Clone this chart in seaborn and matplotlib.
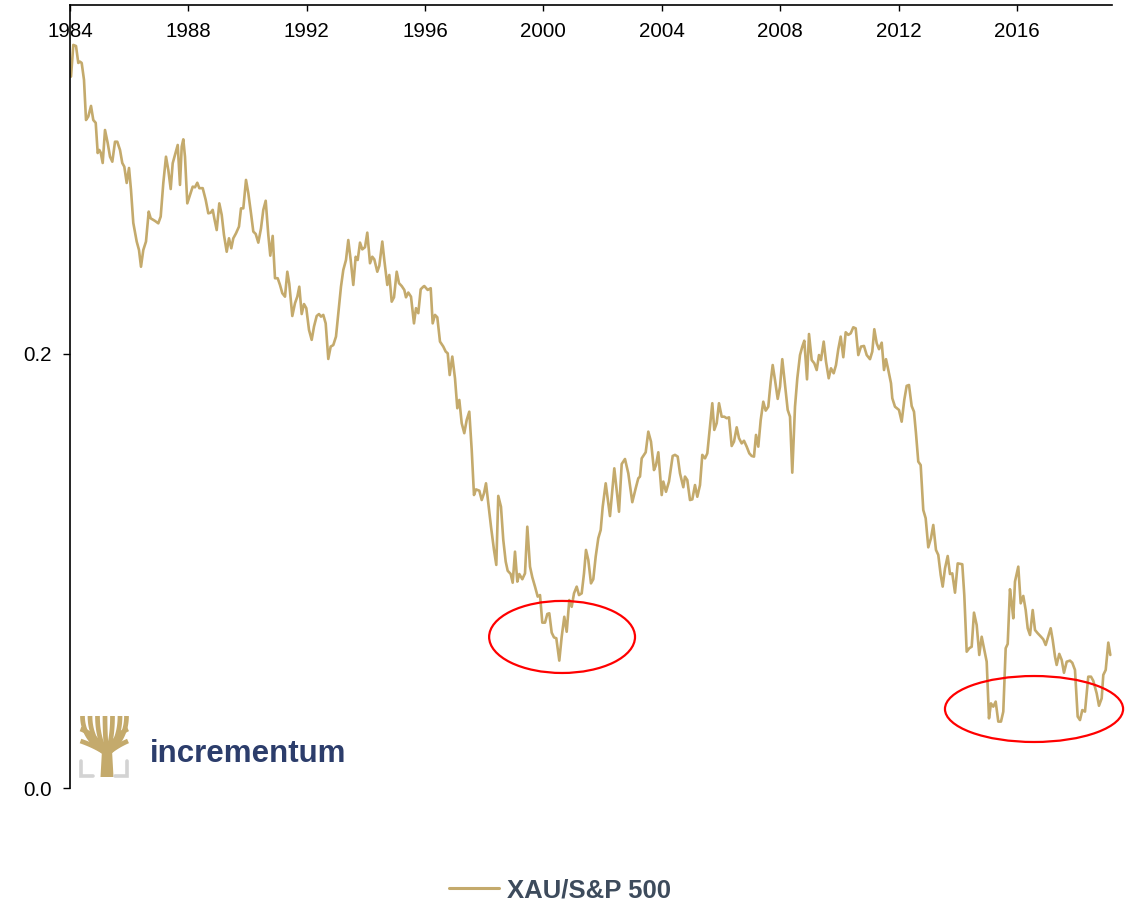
import matplotlib
matplotlib.use("Agg")
import matplotlib.pyplot as plt
import seaborn as sns
import numpy as np
import pandas as pd
from matplotlib.patches import Ellipse, Polygon
from matplotlib import font_manager

# ---------------- data ----------------
SERIES_LABEL = "XAU/S&P 500"

years = [
    1984.034, 1984.112, 1984.203, 1984.280, 1984.338, 1984.395, 1984.473, 1984.541, 1984.618, 1984.710,
    1984.787, 1984.869, 1984.936, 1984.990, 1985.038, 1985.105, 1985.183, 1985.274, 1985.352, 1985.430,
    1985.521, 1985.598, 1985.690, 1985.767, 1985.835, 1985.916, 1985.994, 1986.061, 1986.139, 1986.254,
    1986.332, 1986.399, 1986.477, 1986.568, 1986.660, 1986.727, 1986.873, 1986.984, 1987.065, 1987.153,
    1987.244, 1987.322, 1987.403, 1987.471, 1987.548, 1987.640, 1987.717, 1987.775, 1987.829, 1987.886,
    1987.964, 1988.055, 1988.147, 1988.224, 1988.302, 1988.370, 1988.485, 1988.586, 1988.674, 1988.755,
    1988.823, 1988.877, 1988.958, 1989.046, 1989.127, 1989.204, 1989.296, 1989.373, 1989.451, 1989.519,
    1989.610, 1989.711, 1989.779, 1989.857, 1989.948,
    1990.026, 1990.117, 1990.195, 1990.276, 1990.364, 1990.455, 1990.533, 1990.614, 1990.702, 1990.769,
    1990.850, 1990.928, 1991.019, 1991.097, 1991.175, 1991.266, 1991.344, 1991.411, 1991.513, 1991.604,
    1991.682, 1991.749, 1991.830, 1991.908, 1991.986, 1992.077, 1992.168, 1992.246, 1992.337, 1992.415,
    1992.482, 1992.560, 1992.641, 1992.729, 1992.810, 1992.898, 1992.989, 1993.067, 1993.158, 1993.236,
    1993.327, 1993.405, 1993.486, 1993.574, 1993.655, 1993.723, 1993.801, 1993.878, 1993.970, 1994.047,
    1994.139, 1994.216, 1994.284, 1994.385, 1994.453, 1994.554, 1994.622, 1994.723, 1994.791, 1994.872,
    1994.950, 1995.041, 1995.119, 1995.210, 1995.298, 1995.355, 1995.433, 1995.524, 1995.625, 1995.693,
    1995.771, 1995.852, 1995.940,
    1995.974, 1996.088, 1996.190, 1996.257, 1996.335, 1996.413, 1996.504, 1996.616, 1996.697, 1996.765,
    1996.832, 1996.920, 1997.011, 1997.089, 1997.157, 1997.238, 1997.325, 1997.407, 1997.494, 1997.576,
    1997.653, 1997.721, 1997.833, 1997.914, 1997.991, 1998.059, 1998.137, 1998.228, 1998.329, 1998.407,
    1998.474, 1998.565, 1998.643, 1998.725, 1998.792, 1998.894, 1998.961, 1999.039, 1999.117, 1999.184,
    1999.286, 1999.377, 1999.455, 1999.546, 1999.624, 1999.715, 1999.806, 1999.884, 1999.962, 2000.053,
    2000.131, 2000.198, 2000.279, 2000.357, 2000.435, 2000.536, 2000.617, 2000.705, 2000.786, 2000.874,
    2000.955, 2001.033, 2001.124, 2001.202, 2001.293, 2001.371, 2001.438, 2001.516, 2001.607, 2001.685,
    2001.766, 2001.854, 2001.935, 2002.003,
    2002.104, 2002.249, 2002.395, 2002.554, 2002.645, 2002.756, 2002.868, 2003.003, 2003.118, 2003.206,
    2003.263, 2003.321, 2003.456, 2003.544, 2003.635, 2003.736, 2003.804, 2003.882, 2003.997, 2004.051,
    2004.142, 2004.243, 2004.368, 2004.446, 2004.537, 2004.615, 2004.727, 2004.784, 2004.862, 2004.953,
    2005.031, 2005.122, 2005.200, 2005.291, 2005.369, 2005.460, 2005.538, 2005.629, 2005.707, 2005.774,
    2005.855, 2005.933, 2006.024, 2006.112, 2006.193, 2006.271, 2006.362, 2006.440, 2006.531, 2006.609,
    2006.700, 2006.778, 2006.869, 2006.957, 2007.038, 2007.116, 2007.184, 2007.261, 2007.343, 2007.430,
    2007.511, 2007.599, 2007.680, 2007.748, 2007.826, 2007.917, 2007.995, 2008.072, 2008.164, 2008.255,
    2008.333, 2008.410, 2008.502, 2008.580, 2008.671, 2008.749, 2008.816, 2008.908, 2008.975, 2009.066,
    2009.154, 2009.235, 2009.313, 2009.380, 2009.472, 2009.549, 2009.641, 2009.718, 2009.809, 2009.887,
    2009.965, 2010.046, 2010.134, 2010.215, 2010.303, 2010.384, 2010.472, 2010.553, 2010.641, 2010.732,
    2010.833, 2010.925, 2011.036, 2011.114, 2011.182, 2011.263, 2011.341, 2011.432, 2011.510, 2011.577,
    2011.655, 2011.746, 2011.790, 2011.881, 2012.016, 2012.107, 2012.195, 2012.276, 2012.354, 2012.445,
    2012.523, 2012.590, 2012.668, 2012.749, 2012.837, 2012.918, 2013.006, 2013.097, 2013.175, 2013.266,
    2013.344, 2013.425, 2013.493, 2013.571, 2013.662, 2013.740, 2013.817, 2013.909, 2014.000, 2014.155,
    2014.223, 2014.304, 2014.392, 2014.473, 2014.551, 2014.642, 2014.730, 2014.811, 2014.899, 2014.980,
    2015.058, 2015.125, 2015.203, 2015.284, 2015.372, 2015.463, 2015.541, 2015.622, 2015.690, 2015.767,
    2015.825, 2015.879, 2015.936, 2016.048, 2016.129, 2016.217, 2016.298, 2016.366, 2016.444, 2016.535,
    2016.613, 2016.704, 2016.815, 2016.893, 2016.974, 2017.042, 2017.143, 2017.211, 2017.289, 2017.345,
    2017.433, 2017.515, 2017.592, 2017.684, 2017.795, 2017.873, 2017.964, 2018.055, 2018.133, 2018.211,
    2018.302, 2018.413, 2018.505, 2018.582, 2018.697, 2018.775, 2018.866, 2018.921, 2019.002, 2019.090,
    2019.158,
]

xau_spx = [
    0.3278, 0.3424, 0.3419, 0.3341, 0.3347, 0.3341, 0.3263, 0.3078, 0.3094, 0.3143,
    0.3078, 0.3065, 0.2926, 0.2940, 0.2928, 0.2880, 0.3032, 0.2972, 0.2909, 0.2886,
    0.2978, 0.2978, 0.2940, 0.2880, 0.2863, 0.2788, 0.2857, 0.2756, 0.2604, 0.2518,
    0.2479, 0.2402, 0.2479, 0.2518, 0.2656, 0.2625, 0.2613, 0.2602, 0.2633, 0.2787,
    0.2909, 0.2848, 0.2760, 0.2879, 0.2917, 0.2963, 0.2779, 0.2955, 0.2989, 0.2909,
    0.2694, 0.2733, 0.2771, 0.2768, 0.2789, 0.2764, 0.2764, 0.2710, 0.2648, 0.2651,
    0.2664, 0.2625, 0.2571, 0.2694, 0.2641, 0.2548, 0.2471, 0.2533, 0.2487, 0.2533,
    0.2556, 0.2587, 0.2671, 0.2671, 0.2802,
    0.2741, 0.2648, 0.2564, 0.2553, 0.2513, 0.2579, 0.2664, 0.2706, 0.2548, 0.2453,
    0.2544, 0.2349, 0.2349, 0.2318, 0.2280, 0.2264, 0.2379, 0.2323, 0.2175, 0.2234,
    0.2264, 0.2310, 0.2184, 0.2230, 0.2211, 0.2111, 0.2065, 0.2126, 0.2175, 0.2184,
    0.2172, 0.2180, 0.2141, 0.1977, 0.2034, 0.2041, 0.2080, 0.2188, 0.2310, 0.2387,
    0.2433, 0.2525, 0.2433, 0.2318, 0.2448, 0.2433, 0.2513, 0.2482, 0.2492, 0.2559,
    0.2418, 0.2448, 0.2436, 0.2379, 0.2406, 0.2518, 0.2433, 0.2318, 0.2364, 0.2241,
    0.2261, 0.2379, 0.2326, 0.2313, 0.2295, 0.2261, 0.2283, 0.2264, 0.2141, 0.2211,
    0.2188, 0.2298, 0.2310,
    0.2313, 0.2295, 0.2303, 0.2141, 0.2180, 0.2169, 0.2057, 0.2034, 0.2011, 0.2003,
    0.1903, 0.1988, 0.1888, 0.1750, 0.1788, 0.1681, 0.1635, 0.1696, 0.1734, 0.1558,
    0.1350, 0.1376, 0.1370, 0.1327, 0.1358, 0.1404, 0.1312, 0.1204, 0.1097, 0.1028,
    0.1346, 0.1296, 0.1143, 0.1043, 0.1001, 0.0986, 0.0946, 0.1089, 0.0951, 0.0986,
    0.0962, 0.0989, 0.1204, 0.1020, 0.0971, 0.0928, 0.0882, 0.0889, 0.0762, 0.0762,
    0.0802, 0.0805, 0.0716, 0.0694, 0.0690, 0.0587, 0.0697, 0.0789, 0.0720, 0.0866,
    0.0835, 0.0897, 0.0928, 0.0889, 0.0897, 0.0989, 0.1097, 0.1051, 0.0943, 0.0962,
    0.1066, 0.1151, 0.1189, 0.1296,
    0.1404, 0.1253, 0.1473, 0.1273, 0.1493, 0.1516, 0.1450, 0.1317, 0.1381, 0.1427,
    0.1435, 0.1519, 0.1547, 0.1642, 0.1596, 0.1465, 0.1488, 0.1547, 0.1350, 0.1412,
    0.1365, 0.1412, 0.1530, 0.1535, 0.1527, 0.1450, 0.1386, 0.1435, 0.1419, 0.1327,
    0.1330, 0.1396, 0.1342, 0.1396, 0.1535, 0.1519, 0.1542, 0.1665, 0.1773, 0.1650,
    0.1681, 0.1773, 0.1711, 0.1711, 0.1704, 0.1708, 0.1576, 0.1596, 0.1662, 0.1612,
    0.1588, 0.1600, 0.1573, 0.1542, 0.1530, 0.1527, 0.1627, 0.1573, 0.1696, 0.1780,
    0.1739, 0.1757, 0.1872, 0.1949, 0.1880, 0.1793, 0.1849, 0.1976, 0.1857, 0.1742,
    0.1711, 0.1453, 0.1757, 0.1888, 0.1995, 0.2034, 0.2061, 0.1883, 0.2092, 0.1972,
    0.1957, 0.1926, 0.1995, 0.1972, 0.2057, 0.1965, 0.1888, 0.1934, 0.1911, 0.1949,
    0.2022, 0.2080, 0.1985, 0.2100, 0.2088, 0.2095, 0.2123, 0.2118, 0.1995, 0.2034,
    0.2037, 0.1995, 0.1976, 0.2011, 0.2114, 0.2049, 0.2022, 0.2052, 0.1926, 0.1976,
    0.1926, 0.1865, 0.1796, 0.1757, 0.1742, 0.1688, 0.1788, 0.1853, 0.1857, 0.1760,
    0.1734, 0.1635, 0.1504, 0.1488, 0.1281, 0.1243, 0.1109, 0.1151, 0.1212, 0.1097,
    0.1074, 0.0982, 0.0928, 0.1012, 0.1069, 0.0986, 0.0989, 0.0900, 0.1035, 0.1031,
    0.0889, 0.0628, 0.0644, 0.0651, 0.0808, 0.0751, 0.0613, 0.0697, 0.0636, 0.0582,
    0.0321, 0.0390, 0.0375, 0.0398, 0.0306, 0.0306, 0.0352, 0.0644, 0.0664, 0.0916,
    0.0851, 0.0782, 0.0951, 0.1020, 0.0851, 0.0885, 0.0820, 0.0736, 0.0705, 0.0820,
    0.0728, 0.0713, 0.0697, 0.0685, 0.0659, 0.0690, 0.0736, 0.0682, 0.0605, 0.0567,
    0.0618, 0.0590, 0.0531, 0.0582, 0.0587, 0.0577, 0.0544, 0.0329, 0.0313, 0.0359,
    0.0352, 0.0513, 0.0513, 0.0494, 0.0436, 0.0379, 0.0413, 0.0521, 0.0544, 0.0670,
    0.0613,
]

x_ticks = [1984, 1988, 1992, 1996, 2000, 2004, 2008, 2012, 2016]
x_tick_labels = ["1984", "1988", "1992", "1996", "2000", "2004", "2008", "2012", "2016"]
y_ticks = [0.0, 0.2]
y_tick_labels = ["0.0", "0.2"]

# highlighted zones (centre year, centre value, width in years, height in value)
highlight_zones = [
    (2000.63, 0.0696, 4.93, 0.0332),
    (2016.58, 0.0364, 6.02, 0.0304),
]

# ---------------- style ----------------
GOLD = "#C4AA6C"
NAVY = "#2C3D6B"
LEGEND_TXT = "#3D4B5C"

sns.set_theme(style="white")
plt.rcParams["font.family"] = ["Liberation Sans", "DejaVu Sans"]

W, H = 1138, 905
fig = plt.figure(figsize=(W / 100, H / 100), dpi=100)
ax = fig.add_axes([70 / W, 1 - 788 / H, (1112 - 70) / W, (788 - 5) / H])

df = pd.DataFrame({"year": years, "ratio": xau_spx})
sns.lineplot(data=df, x="year", y="ratio", ax=ax, color=GOLD, linewidth=1.9,
             estimator=None, label=SERIES_LABEL, legend=False)

ax.set_xlim(1984, 2019.215)
ax.set_ylim(0, 0.3608)
ax.set_xlabel("")
ax.set_ylabel("")

ax.set_xticks(x_ticks)
ax.set_xticklabels(x_tick_labels)
ax.set_yticks(y_ticks)
ax.set_yticklabels(y_tick_labels)

ax.xaxis.set_ticks_position("top")
ax.tick_params(axis="x", which="both", top=True, bottom=False, labeltop=True,
               labelbottom=False, direction="in", length=4, width=1,
               pad=-26, labelsize=14.8, color="black", labelcolor="black")
ax.tick_params(axis="y", which="both", left=True, direction="out", length=5,
               width=1, pad=8, labelsize=14.8, color="black", labelcolor="black")

for side in ["bottom", "right"]:
    ax.spines[side].set_visible(False)
for side in ["top", "left"]:
    ax.spines[side].set_visible(True)
    ax.spines[side].set_color("black")
    ax.spines[side].set_linewidth(1.2)
ax.grid(False)

for cx, cy, w, h in highlight_zones:
    ax.add_patch(Ellipse((cx, cy), w, h, transform=ax.transData, fill=False,
                         edgecolor="red", linewidth=1.6, clip_on=False, zorder=5))

# legend
handles, labels = ax.get_legend_handles_labels()
leg = ax.legend(handles, labels, loc="center", bbox_to_anchor=(560 / W, 1 - 890 / H),
                bbox_transform=fig.transFigure, frameon=False,
                prop={"size": 18.5, "weight": "bold", "family": ["Liberation Sans", "DejaVu Sans"]},
                handlelength=1.95, handletextpad=0.3, labelcolor=LEGEND_TXT)
for ln in leg.get_lines():
    ln.set_linewidth(2.2)

# ---------------- logo ----------------
lax = fig.add_axes([78 / W, 1 - 778 / H, 52 / W, 64 / H])
lax.set_xlim(0, 52)
lax.set_ylim(64, 0)
lax.axis("off")
lax.patch.set_alpha(0)

trunk = Polygon([(22.5, 63), (35.5, 63), (34, 36), (24, 36)], closed=True,
                facecolor=GOLD, edgecolor="none")
lax.add_patch(trunk)
t = np.linspace(0, 1, 30)
p0 = np.array([29.0, 40.0])
ends = [(4.5, 2), (12, 2), (19.5, 2), (27, 2), (34.5, 2), (42, 2), (48.5, 2),
        (2.5, 15), (2.5, 27), (50, 15), (50, 27)]
for ex, ey in ends:
    if ey < 5:
        p1 = np.array([ex, (ey + 40) / 2 + 4])
    else:
        p1 = np.array([29 + (ex - 29) * 0.45, ey + 5])
    p2 = np.array([ex, ey])
    pts = ((1 - t) ** 2)[:, None] * p0 + (2 * (1 - t) * t)[:, None] * p1 + (t ** 2)[:, None] * p2
    lax.plot(pts[:, 0], pts[:, 1], color=GOLD, linewidth=3.4, solid_capstyle="butt")

grey = "#D3D3D3"
lax.plot([3, 3, 15], [47, 61.5, 61.5], color=grey, linewidth=2.6, solid_joinstyle="miter")
lax.plot([49, 49, 37], [47, 61.5, 61.5], color=grey, linewidth=2.6, solid_joinstyle="miter")

names = {f.name for f in font_manager.fontManager.ttflist}
if "Liberation Sans Narrow" in names:
    logo_family, logo_size = ["Liberation Sans Narrow", "DejaVu Sans"], 27
else:
    logo_family, logo_size = ["Liberation Sans", "DejaVu Sans"], 22.5
fig.text(150 / W, 1 - 762 / H, "incrementum", fontsize=logo_size, fontweight="bold",
         color=NAVY, family=logo_family, ha="left", va="baseline")

fig.savefig("out.png", dpi=100, facecolor="white")
